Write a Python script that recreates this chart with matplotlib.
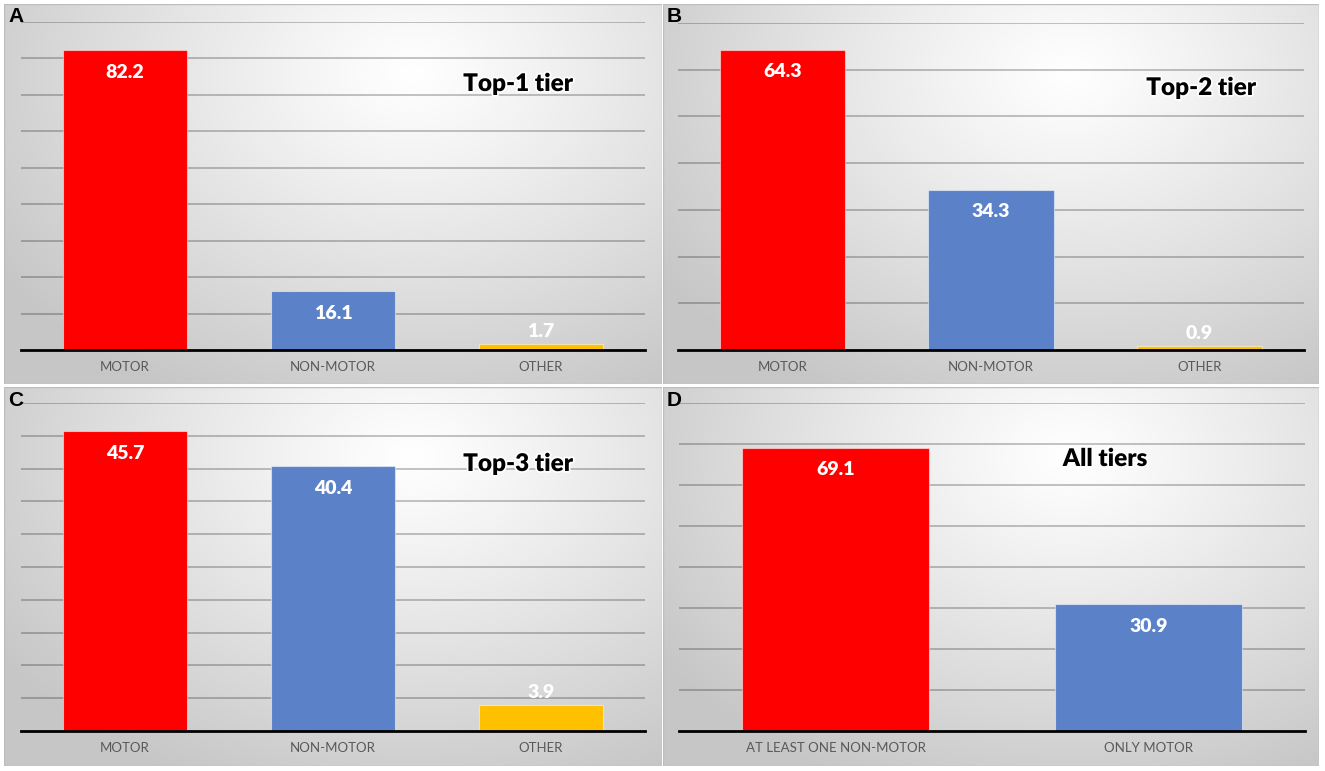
import numpy as np
import matplotlib.pyplot as plt
import matplotlib.patheffects as pe
from matplotlib.patches import Rectangle

W, H = 1325, 771

# ----------------------- data -----------------------
cats_tier = ["MOTOR", "NON-MOTOR", "OTHER"]
top1 = [82.2, 16.1, 1.7]
top2 = [64.3, 34.3, 0.9]
top3 = [45.7, 40.4, 3.9]
cats_all = ["AT LEAST ONE NON-MOTOR", "ONLY MOTOR"]
all_tiers = [69.1, 30.9]

titles = ["Top-1 tier", "Top-2 tier", "Top-3 tier", "All tiers"]
letters = ["A", "B", "C", "D"]
colors3 = ["#ff0000", "#5b82c8", "#ffc000"]
colors2 = ["#ff0000", "#5b82c8"]

plt.rcParams['font.family'] = ['Lato', 'DejaVu Sans']

# panel layout in pixels: panel box, plot box, y max, grid step, title centre
panels = [
    dict(cats=cats_tier, vals=top1, cols=colors3, box=(4, 4, 662, 384),
         plot=(21, 22, 645, 350), ymax=90, step=10, tpos=(518, 84)),
    dict(cats=cats_tier, vals=top2, cols=colors3, box=(663, 4, 1319, 384),
         plot=(678, 23, 1304, 350), ymax=70, step=10, tpos=(1201, 88)),
    dict(cats=cats_tier, vals=top3, cols=colors3, box=(4, 387, 662, 766),
         plot=(21, 403, 645, 731), ymax=50, step=5, tpos=(518, 464)),
    dict(cats=cats_all, vals=all_tiers, cols=colors2, box=(663, 387, 1319, 766),
         plot=(679, 403, 1305, 731), ymax=80, step=10, tpos=(1105, 459)),
]


def px_rect(x0, y0, x1, y1):
    return [x0 / W, 1 - y1 / H, (x1 - x0) / W, (y1 - y0) / H]


def gradient(nx=200, ny=120, cx=0.62, cy=0.18):
    x = np.linspace(0, 1, nx)
    y = np.linspace(0, 1, ny)
    X, Y = np.meshgrid(x, y)
    d = np.sqrt(((X - cx) / 0.75) ** 2 + ((Y - cy) / 0.95) ** 2)
    g = 1.0 - 0.22 * np.clip(d, 0, 1) ** 1.1
    return np.dstack([g, g, g])


fig = plt.figure(figsize=(W / 100, H / 100), dpi=100)

for i, p in enumerate(panels):
    # background with radial shading
    bg = fig.add_axes(px_rect(*p["box"]))
    bg.imshow(gradient(), extent=(0, 1, 0, 1), aspect="auto", origin="upper",
              interpolation="bilinear")
    bg.set_xlim(0, 1)
    bg.set_ylim(0, 1)
    bg.axis("off")
    bg.add_patch(Rectangle((0, 0), 1, 1, fill=False, edgecolor="#bdbdbd",
                           linewidth=1.0, transform=bg.transAxes))
    bx0, by0 = p["box"][0], p["box"][1]
    bg.text(4 / (p["box"][2] - bx0), 1 - 13 / (p["box"][3] - by0), letters[i],
            transform=bg.transAxes, ha="left", va="center", fontsize=15,
            fontweight="bold", family="Liberation Sans", color="black")

    ax = fig.add_axes(px_rect(*p["plot"]))
    ax.patch.set_alpha(0)
    n = len(p["cats"])
    xs = np.arange(n)
    ax.bar(xs, p["vals"], width=0.6, color=p["cols"], edgecolor=(1, 1, 1, 0.5),
           linewidth=0.8, zorder=3)
    ax.set_xlim(-0.5, n - 0.5)
    ax.set_ylim(0, p["ymax"])
    ax.set_yticks(np.arange(p["step"], p["ymax"] + 0.1, p["step"]))
    ax.set_yticklabels([])
    ax.tick_params(axis="y", length=0)
    ax.grid(axis="y", color="black", alpha=0.27, linewidth=1.2, zorder=1)
    ax.set_axisbelow(True)
    for s in ax.spines.values():
        s.set_visible(False)
    ax.axhline(0, color="black", linewidth=2, zorder=4, clip_on=False)
    ax.set_xticks(xs)
    ax.set_xticklabels(p["cats"], fontsize=9.5, color="#595959")
    ax.tick_params(axis="x", length=0, pad=8)

    plot_h = p["plot"][3] - p["plot"][1]
    for x, v in zip(xs, p["vals"]):
        if v / p["ymax"] * plot_h < 40:
            ax.annotate(f"{v:.1f}", (x, v), xytext=(0, 3), textcoords="offset points",
                        ha="center", va="bottom", fontsize=14, fontweight="heavy",
                        color="white", zorder=5)
        else:
            ax.annotate(f"{v:.1f}", (x, v), xytext=(0, -16), textcoords="offset points",
                        ha="center", va="center", fontsize=14, fontweight="heavy",
                        color="white", zorder=5)

    tx, ty = p["tpos"]
    fig.text(tx / W, 1 - ty / H, titles[i], ha="center", va="center", fontsize=17.5,
             fontweight="heavy", color="black",
             path_effects=[pe.withStroke(linewidth=2.5, foreground="white")])

fig.savefig("out.png", dpi=100)
